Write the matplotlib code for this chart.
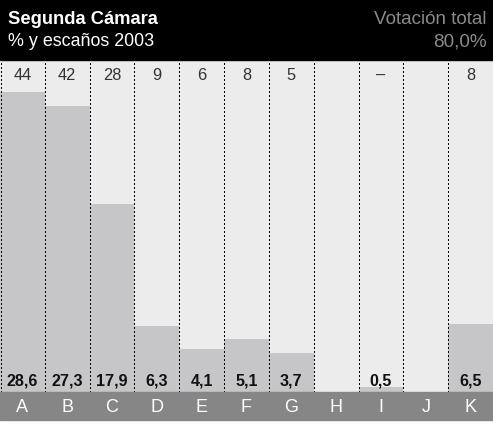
import matplotlib
matplotlib.use("Agg")
import matplotlib.pyplot as plt
from matplotlib.patches import Rectangle

plt.rcParams['font.family'] = ['Liberation Sans', 'DejaVu Sans']

parties = ['A', 'B', 'C', 'D', 'E', 'F', 'G', 'H', 'I', 'J', 'K']
votes = [28.6, 27.3, 17.9, 6.3, 4.1, 5.1, 3.7, 0, 0.5, 0, 6.5]
vote_labels = ['28,6', '27,3', '17,9', '6,3', '4,1', '5,1', '3,7', '', '0,5', '', '6,5']
seats = ['44', '42', '28', '9', '6', '8', '5', '', '–', '', '8']

W, H = 493, 424
fig = plt.figure(figsize=(W / 100, H / 100), dpi=100)
fig.patch.set_facecolor('white')

base_px = 392
top_px = 60
ax = fig.add_axes([0, (H - base_px) / H, 1, (base_px - top_px) / H])
ax.set_facecolor('#ececec')
n = len(parties)
ax.bar(range(n), votes, width=1.0, align='edge', color='#c6c6c8', edgecolor='none')
ax.set_xlim(0, n)
ax.set_ylim(0, 31.65)
for i in range(n):
    ln = ax.axvline(i + (0.012 if i == 0 else 0), color='black', lw=1.0,
                    linestyle=(0, (1, 2)), antialiased=False)
    ln.set_snap(True)
ax.set_xticks([])
ax.set_yticks([])
for s in ax.spines.values():
    s.set_visible(False)

# header and bottom band
fig.patches.append(Rectangle((0, 1 - top_px / H), 1, top_px / H, transform=fig.transFigure,
                             color='black', zorder=0))
fig.patches.append(Rectangle((0, 4 / H), 1, (420 - 392) / H, transform=fig.transFigure,
                             color='#868686', zorder=0))

fig.text(8 / W, 1 - 20 / H, 'Segunda Cámara', color='white', fontsize=13.2, fontweight='bold',
         va='center', ha='left')
fig.text(8 / W, 1 - 42 / H, '% y escaños 2003', color='white', fontsize=12.9,
         va='center', ha='left')
fig.text(1 - 6 / W, 1 - 20 / H, 'Votación total', color='#8a8a8a', fontsize=13.6,
         va='center', ha='right')
fig.text(1 - 6 / W, 1 - 42 / H, '80,0%', color='#8a8a8a', fontsize=13.6,
         va='center', ha='right')

for i in range(n):
    x = (i + 0.5) / n
    fig.text(x, 1 - 75 / H, seats[i], color='#333333', fontsize=11.8, ha='center', va='center')
    fig.text(x, 1 - 381 / H, vote_labels[i], color='#111111', fontsize=11.6, fontweight='bold',
             ha='center', va='center')
    fig.text(x, 1 - 408 / H, parties[i], color='white', fontsize=13, ha='center', va='center')

fig.savefig('out.png', dpi=100)
